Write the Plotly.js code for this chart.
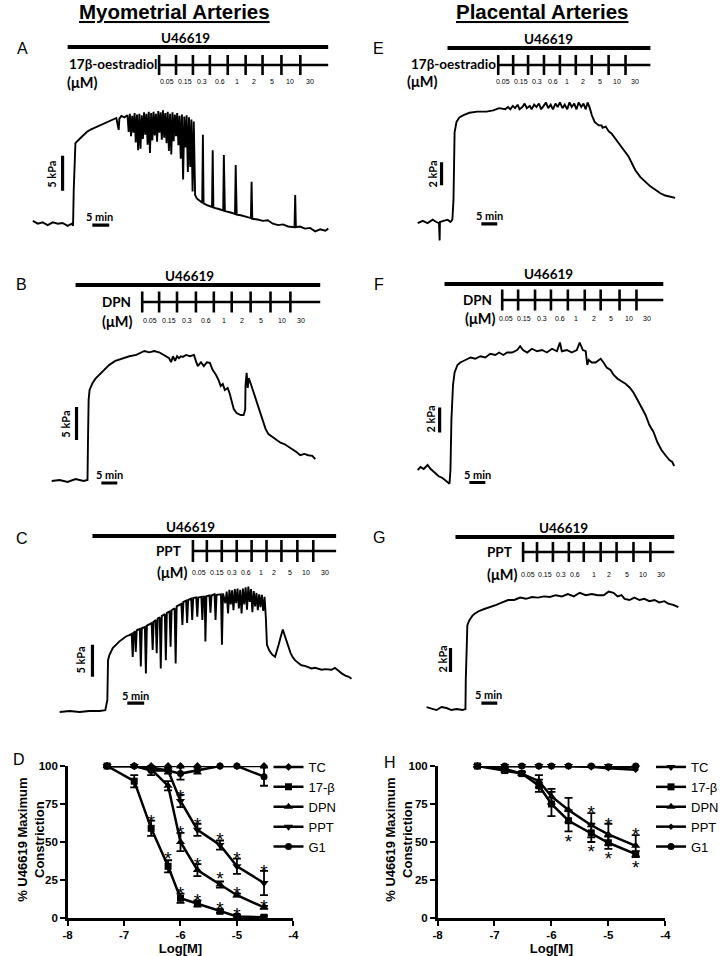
<!DOCTYPE html>
<html><head><meta charset="utf-8">
<script src="https://cdn.plot.ly/plotly-3.0.1.min.js"></script>
<style>body{margin:0;background:#fff}#chart{width:724px;height:956px}</style>
</head><body><div id="chart"></div>
<script>
// ---------------- Myography traces (time in min, tension in kPa) ----------------
// A: myometrial, 17β-oestradiol
const timeA = [0,1.5,2.9,4.4,5.9,7.4,8.8,10.3,11.5,11.9,12.1,12.2,12.4,12.6,13.8,15.0,16.2,17.4,18.8,20.3,21.8,23.2,24.7,25.4,25.6,26.2,27.1,
 28.0,28.35,28.7,29.05,29.4,29.75,30.1,30.45,30.8,31.15,31.5,31.85,32.2,32.55,32.9,33.25,33.6,33.95,34.3,34.65,35.0,35.35,35.7,36.05,36.4,36.75,37.1,37.45,37.8,38.15,38.5,38.85,39.2,39.55,39.9,40.25,40.6,40.95,41.3,41.65,42.0,42.35,42.7,43.05,43.4,43.75,44.1,44.45,44.8,45.15,45.5,45.85,46.2,46.55,46.9,47.25,47.6,48.0,
 48.5,50.1,50.3,50.5,51.8,53.0,53.2,53.4,55.0,56.3,56.5,56.8,58.5,59.8,60.0,60.3,61.5,63.0,64.5,64.7,64.9,66.5,68.0,69.5,71.0,72.6,74.0,75.5,77.4,77.6,77.8,79.0,80.5,82.0,83.5,85.0,86.5,87.4];
const kpaA = [1.3,0.9,1.1,0.7,1.1,0.9,1.0,0.6,0.9,0.6,5.7,7.1,11.4,12.4,13.0,13.6,14.1,14.4,14.7,15.1,15.4,15.7,16.0,14.3,15.9,16.3,16.1,
 16.4,14.0,16.6,13.4,16.3,13.9,16.7,12.5,16.5,11.4,16.6,11.6,16.4,13.0,16.8,13.6,16.6,12.2,16.9,11.0,16.7,12.8,16.9,13.5,16.6,12.6,17.0,13.9,16.8,12.9,17.1,13.2,16.7,12.4,16.9,11.3,16.6,10.8,16.8,12.7,16.5,13.4,16.7,12.1,16.3,10.2,16.5,7.2,16.2,11.8,16.4,8.3,16.1,9.0,15.8,5.5,15.5,5.0,
 4.5,3.9,13.6,3.8,3.5,3.3,11.4,3.2,3.0,2.8,10.7,2.7,2.5,2.3,9.3,2.2,2.1,1.9,1.7,6.9,1.6,1.5,1.3,1.4,0.9,0.7,0.8,0.5,0.4,5.0,0.4,0.5,0.2,0.3,-0.2,0.1,-0.1,0.2];
// B: myometrial, DPN
const timeB = [0,2.5,5.0,7.5,10,11.25,11.4,11.6,11.9,12.8,13.75,15,16.6,18.1,20,22.2,24.4,26.6,27.8,29.1,30.6,32.2,33.75,35,35.9,36.9,37.5,38.1,38.75,39.4,40,40.6,41.25,42.2,43.4,44.7,45.3,45.9,46.9,47.8,48.75,49.7,50.6,51.6,52.5,53.1,53.75,54.4,55.3,55.9,56.6,57.2,58.1,59.4,60.3,60.8,60.9,61.25,61.6,61.9,62.5,63.4,64.4,65.3,66.25,67.2,68.1,69.4,70.6,71.9,73.1,74.4,75.6,76.9,78.1,79.4,80.6,81.9,82.8];
const kpaB = [0,0.15,-0.15,0.3,0,0.15,6.2,12.3,13.8,14.8,15.5,16.1,16.8,17.6,18.2,18.6,18.9,19.1,19.4,19.7,19.5,19.7,19.5,19.1,18.8,18.6,18.0,18.9,18.2,18.9,18.6,18.9,18.8,19.1,18.9,19.1,18.2,17.4,18.0,17.4,18.0,17.9,16.8,16.1,15.2,14.4,14.7,13.8,14.1,13.3,12.0,10.9,10.3,10.0,10.0,10.8,14.5,16.4,14.1,15.6,14.8,13.5,12.0,10.5,9.2,7.9,7.1,6.7,6.2,5.8,5.6,5.2,4.8,4.4,3.9,4.1,3.9,3.8,3.3];
// C: myometrial, PPT
const timeC = [0,2.9,5.9,8.8,11.8,13.5,14.1,14.2,14.3,14.7,15.7,17.6,19.6,20.6,
 21.3,21.6,21.9,22.3,22.5,22.8,23.7,24.0,24.3,25.2,25.5,25.8,27.2,27.5,27.8,28.4,28.7,29.0,29.6,29.9,30.2,31.1,31.4,31.7,32.5,32.8,33.1,34.0,34.3,34.6,36.0,36.3,36.6,37.4,37.7,38.0,38.9,39.2,39.5,40.4,40.7,41.0,41.9,42.2,42.5,42.9,43.1,43.4,44.3,44.6,44.9,45.8,46.1,46.4,47.7,48.0,48.3,
 49.0,49.4,49.8,50.2,50.6,51.0,51.4,51.8,52.2,52.6,53.0,53.4,53.8,54.2,54.6,55.0,55.4,55.8,56.2,56.6,57.0,57.4,57.8,58.2,58.6,59.0,59.4,59.8,60.2,60.6,
 61.0,61.3,62.0,62.8,63.7,64.3,64.8,65.4,66.0,66.4,67.0,67.6,68.3,69.0,69.6,70.5,71.5,72.5,73.5,74.5,75.5,76.5,77.5,78.5,79.4,80.4,81.4,82.5,83.5,84.5,85.5,86.3];
const kpaC = [0,0.15,0,0.15,0.15,0.3,1.9,5,8.1,8.9,10,11,11.8,12.0,
 12.2,8.6,12.4,12.6,9.4,12.8,13.0,7.1,13.1,13.3,6.0,13.5,13.9,9.7,14.1,14.4,9.2,14.6,14.8,6.8,15.0,15.3,8.1,15.5,15.7,10.2,15.9,16.2,7.6,16.5,16.9,13.6,17.2,17.4,13.9,17.5,17.7,14.4,17.8,17.9,14.9,17.9,18.0,14.4,18.0,18.0,11.0,18.1,18.2,15.5,18.2,18.4,14.4,18.3,18.4,10.5,18.5,
 17.0,18.8,15.4,19.1,16.8,19.0,15.9,19.2,17.0,19.3,16.2,19.1,15.4,19.3,16.8,19.5,16.0,19.6,17.2,19.2,15.6,18.9,16.5,18.6,15.9,18.4,16.4,18.3,15.8,18.0,
 14.5,10.5,9.6,9.0,8.6,9.5,10.6,11.8,12.9,12.2,11.3,10.4,9.2,8.5,8.1,7.7,7.3,7.2,7.0,6.8,6.9,6.7,6.6,6.7,6.6,6.6,6.9,6.4,6.0,5.7,5.5,5.2];
// E: placental, 17β-oestradiol
const timeE = [0,1.6,3.1,4.7,5.9,6.7,6.9,7.0,8.1,9.4,10.3,10.9,11.25,11.4,11.6,12.2,13.1,14.4,16.25,18.75,21.6,23.75,25.6,
 27.5,28.4,29.1,29.9,30.6,31.4,32.0,32.9,33.6,34.3,35.2,35.8,36.6,37.3,38.1,38.8,39.6,40.3,41.0,41.8,42.5,43.3,44.0,44.7,45.5,46.2,47.0,47.7,48.4,49.2,49.9,50.6,51.4,52.1,52.8,53.4,54.1,
 54.7,55.6,56.9,57.8,58.1,59.1,60,60.9,62.5,64.1,65.3,66.25,67.5,68.4,70,71.6,73.1,74.7,76.25,77.8,79.4,80.9];
const kpaE = [-0.1,0.1,-0.1,0.2,0,-0.1,-1.6,0,0.1,0.2,0,0.2,1.9,5.4,7.8,8.7,9.1,9.3,9.5,9.6,9.6,9.7,9.9,
 9.8,10.0,9.8,10.1,9.9,10.2,9.8,10.0,10.3,9.9,10.1,9.8,10.2,10.0,10.3,9.8,10.1,10.4,9.9,10.2,9.8,10.3,10.0,10.4,9.9,10.2,9.8,10.4,10.0,10.3,9.8,10.4,10.0,10.3,9.8,10.4,9.9,
 9.3,8.7,8.4,8.4,8.2,8.3,7.9,7.7,7.1,6.5,6.0,5.7,5.0,4.5,3.9,3.5,3.1,2.8,2.5,2.3,2.2,2.1];
// F: placental, DPN
const timeF = [0,0.9,1.9,3.1,4.1,5.3,6.6,7.8,9.4,10,10.3,10.6,11.1,11.6,12.5,13.4,15,16.6,18.1,19.7,21.25,22.8,24.4,25.6,26.9,28.1,29.7,31.25,32.2,33.1,34.4,35.9,37.5,39.1,40.6,42.2,43.75,44.7,45.3,46.9,48.4,50,50.9,51.9,52.8,53.3,53.75,54.7,55.9,57.5,58.4,59.4,60.6,61.6,62.8,64.1,65.3,66.6,67.8,69.1,70.3,71.6,72.8,74.1,75.3,76.6,77.8,79.1,80,80.6];
const kpaF = [0,0.24,0.08,0.4,0.08,-0.24,-0.5,-0.64,-0.96,-1.1,0,4.0,6.8,7.8,8.4,8.6,8.8,9.0,8.9,9.1,9.0,9.3,9.2,9.4,9.2,9.4,9.4,9.6,9.9,9.6,9.4,9.7,9.5,9.6,9.4,9.7,9.5,10.2,9.5,9.6,9.4,9.6,10.2,9.6,9.5,8.4,8.8,8.6,8.6,8.9,8.6,8.2,8.0,7.6,7.3,7.1,6.9,6.6,6.2,5.6,4.96,4.4,3.6,3.04,2.24,1.6,1.2,0.8,0.64,0.32];
// G: placental, PPT
const timeG = [0,1.6,3.1,4.7,6.25,7.8,9.4,11.25,12.2,12.3,12.5,12.8,13.4,14.4,15.3,16.6,18.1,20,21.9,23.75,25.6,27.5,29.4,31.25,33.1,35,36.9,38.75,40.6,42.5,44.4,46.25,48.1,50,51.9,53.75,55.6,57.2,58.75,60,61.25,62.2,63.75,65.3,66.9,68.4,70,71.6,73.1,74.7,75.9,77.5,79.1];
const kpaG = [0.08,-0.08,-0.17,0.08,0,-0.17,-0.08,-0.17,-0.08,2.3,5.7,6.9,7.3,7.7,7.9,8.1,8.25,8.4,8.6,8.8,9.0,9.0,9.2,9.1,9.25,9.2,9.3,9.25,9.4,9.3,9.5,9.3,9.6,9.4,9.5,9.4,9.4,9.7,9.6,9.3,9.4,9.1,9.0,9.2,9.0,9.1,8.9,9.0,8.8,8.9,8.7,8.6,8.4];

const doseLabels = ['0.05','0.15','0.3','0.6','1','2','5','10','30'];

// ---------------- Concentration–response (% U46619 maximum constriction) ----------------
const logConc = [-7.3,-6.82,-6.52,-6.22,-6.0,-5.7,-5.3,-5.0,-4.52];
// D: myometrial
const myoTC   = [100,100,100,100,100,100,100,100,100];
const myoE2   = [100,90,59,34,13,9.5,4.4,1,0.5];
const myoE2Err= [0,4,5,4,3,2,1,1,1];
const myoDPN  = [100,100,98,87,50,31.5,22,15,7];
const myoDPNErr=[0,0,1,3,6,4,2,1,1];
const myoPPT  = [100,100,99,97,77,58,48,34,23];
const myoPPTErr=[0,0,1,2,4,4,3,5,8];
const myoG1   = [100,100,97,97,95,97,100,100,93];
const myoG1Err= [0,0,3,0,4,2,0,0,6];
const myoStarX = [-6.52,-6.22,-6.0,-5.7,-5.3,-5.0, -6.0,-5.7,-5.3,-5.0,-4.52, -6.0,-5.7,-5.3,-5.0,-4.52];
const myoStarY = [66.6,41.8,18.7,14.3,9.0,5.1, 58.9,38,28.8,18.7,10.5, 83,64.4,54.5,42,33.6];
// H: placental
const placTC   = [100,100,100,100,100,100,99.5,100,99];
const placE2   = [100,97,95,87,75,64,56,49.5,42];
const placE2Err= [0,1,1,4,8,7,6,4,2];
const placDPN  = [100,98,95,90,80,71,61,55,47.5];
const placDPNErr=[0,1,1,4,5,8,8,7,7];
const placPPT  = [100,100,100,100,100,100,99.5,98.5,97.5];
const placG1   = [100,100,100,100,100,100,100,99.5,100];
const placStarX = [-5.3,-5.0,-4.52, -5.7,-5.3,-5.0,-4.52];
const placStarY = [72,64.4,57.8, 53.4,46.8,41.8,36.3];

// ---------------- layout helpers ----------------
const W = 724, H = 956;
const X = v => v / W, Y = v => 1 - v / H;
const CAL = 'Lato, "Open Sans", sans-serif';
const ARIAL = '"Liberation Sans", Arial, sans-serif';

const data = [];
const shapes = [];
const annotations = [];
const layout = {
  width: W, height: H, margin: {l:0, r:0, t:0, b:0},
  paper_bgcolor: '#fff', plot_bgcolor: 'rgba(0,0,0,0)',
  font: {family: ARIAL, color: '#000'},
  showlegend: true, shapes, annotations
};

function axisIds(n) {
  const s = n === 1 ? '' : String(n);
  return {x: 'x' + s, y: 'y' + s, xa: 'xaxis' + s, ya: 'yaxis' + s};
}

// trace panels: pixel box + pixel origin/scales so scale bars stay true (5 min, 5/2 kPa)
const tracePanels = [
  {n:1, t:timeA, p:kpaA, box:[25,340,95,245], x0:33, y0:230, sx:3.4, sy:7,   kpa:5, vBar:[8.8,5.6], hBar:[17.6,0.7], kpaLbl:[51,174], minLbl:[100,216]},
  {n:2, t:timeB, p:kpaB, box:[45,330,335,495], x0:52, y0:481, sx:3.2, sy:6.6, kpa:5, vBar:[7.8,6.2], hBar:[15.6,-0.3], kpaLbl:[66,424], minLbl:[110,474]},
  {n:3, t:timeC, p:kpaC, box:[55,365,585,720], x0:60, y0:712, sx:3.4, sy:6.4, kpa:5, vBar:[9.7,5.5], hBar:[20,1.4], kpaLbl:[80,660], minLbl:[136,695]},
  {n:4, t:timeE, p:kpaE, box:[415,690,95,245], x0:420, y0:222, sx:3.2, sy:11.5, kpa:2, vBar:[7.5,3.2], hBar:[20,-0.17], kpaLbl:[434,174], minLbl:[492,215]},
  {n:5, t:timeF, p:kpaF, box:[415,690,335,495], x0:420, y0:470, sx:3.2, sy:12.5, kpa:2, vBar:[6.9,3.0], hBar:[16.25,-1.0], kpaLbl:[432,419], minLbl:[480,474]},
  {n:6, t:timeG, p:kpaG, box:[420,690,585,720], x0:429, y0:708, sx:3.2, sy:12, kpa:2, vBar:[7.5,3.0], hBar:[17.2,0.4], kpaLbl:[444,659], minLbl:[491,694]}
];

tracePanels.forEach(c => {
  const id = axisIds(c.n);
  const [L, R, T, B] = c.box;
  layout[id.xa] = {domain:[X(L), X(R)], range:[(L - c.x0)/c.sx, (R - c.x0)/c.sx], visible:false, fixedrange:true, anchor:id.y};
  layout[id.ya] = {domain:[Y(B), Y(T)], range:[(c.y0 - B)/c.sy, (c.y0 - T)/c.sy], visible:false, fixedrange:true, anchor:id.x};
  data.push({x:c.t, y:c.p, xaxis:id.x, yaxis:id.y, type:'scatter', mode:'lines',
    line:{color:'#000', width:1.9}, showlegend:false, hoverinfo:'skip', cliponaxis:false});
  shapes.push({type:'line', xref:id.x, yref:id.y, x0:c.vBar[0], x1:c.vBar[0], y0:c.vBar[1], y1:c.vBar[1] + c.kpa, line:{color:'#000', width:3.2}});
  shapes.push({type:'line', xref:id.x, yref:id.y, x0:c.hBar[0], x1:c.hBar[0] + 5, y0:c.hBar[1], y1:c.hBar[1], line:{color:'#000', width:3.2}});
  annotations.push({xref:'paper', yref:'paper', x:X(c.kpaLbl[0]), y:Y(c.kpaLbl[1]), text:'<b>' + c.kpa + ' kPa</b>', textangle:-90,
    showarrow:false, xanchor:'center', yanchor:'middle', font:{family:CAL, size:11}});
  annotations.push({xref:'paper', yref:'paper', x:X(c.minLbl[0]), y:Y(c.minLbl[1]), text:'<b>5 min</b>',
    showarrow:false, xanchor:'center', yanchor:'middle', font:{family:CAL, size:11}});
});

// protocol diagrams (U46619 bar + cumulative dosing ticks)
const protocols = [
  {u:[68,330,47],  ut:[187,38],  dl:[160,330,65],  th:10, ticks:[160,177,194,211,229,247,264,283,302], name:'17β-oestradiol', dn:[159,64], um:[66,83],  dx:[168,186,203,221,238,255,274,292,312], dy:82},
  {u:[76,322,285], ut:[191,276], dl:[143,322,302], th:10.5, ticks:[143,160,178,197,215,233,252,272,292], name:'DPN', dn:[133,302], um:[102,321], dx:[151,170,188,207,225,243,262,284,303], dy:320},
  {u:[93,338,536], ut:[192,527], dl:[194,338,551], th:11, ticks:[194,208,223,238,253,268,283,299,315], name:'PPT', dn:[183,551], um:[157,572], dx:[200,218,233,247,262,276,292,308,327], dy:572},
  {u:[450,654,48], ut:[552,39],  dl:[500,654,65],  th:10, ticks:[501,516,531,547,563,579,595,612,629], name:'17β-oestradio', dn:[500,64], um:[408,82], dx:[506,524,540,556,570,586,603,620,639], dy:82},
  {u:[447,667,284], ut:[552,274], dl:[505,667,300], th:10.5, ticks:[505,521,538,554,571,588,604,623,640], name:'DPN', dn:[496,300], um:[467,318], dx:[509,527,545,563,579,597,614,632,651], dy:318},
  {u:[458,678,537], ut:[567,528], dl:[526,678,552], th:10, ticks:[526,540,556,572,587,604,620,637,654], name:'PPT', dn:[516,552], um:[489,574], dx:[531,548,564,578,597,612,630,647,665], dy:574}
];
protocols.forEach(p => {
  shapes.push({type:'line', xref:'paper', yref:'paper', x0:X(p.u[0]), x1:X(p.u[1]), y0:Y(p.u[2]), y1:Y(p.u[2]), line:{color:'#000', width:4}});
  shapes.push({type:'line', xref:'paper', yref:'paper', x0:X(p.dl[0]), x1:X(p.dl[1]), y0:Y(p.dl[2]), y1:Y(p.dl[2]), line:{color:'#000', width:2.6}});
  p.ticks.forEach(tx => shapes.push({type:'line', xref:'paper', yref:'paper', x0:X(tx), x1:X(tx),
    y0:Y(p.dl[2] - p.th), y1:Y(p.dl[2] + p.th), line:{color:'#000', width:2.6}}));
  annotations.push({xref:'paper', yref:'paper', x:X(p.ut[0]), y:Y(p.ut[1]), text:'<b>U46619</b>', showarrow:false,
    xanchor:'center', yanchor:'middle', font:{family:CAL, size:13.5}});
  annotations.push({xref:'paper', yref:'paper', x:X(p.dn[0]), y:Y(p.dn[1]), text:'<b>' + p.name + '</b>', showarrow:false,
    xanchor:'right', yanchor:'middle', font:{family:CAL, size:13.5}, borderpad:0});
  annotations.push({xref:'paper', yref:'paper', x:X(p.um[0]), y:Y(p.um[1]), text:'<b>(μM)</b>', showarrow:false,
    xanchor:'left', yanchor:'middle', font:{family:CAL, size:14.5}, borderpad:0});
  doseLabels.forEach((d, i) => annotations.push({xref:'paper', yref:'paper', x:X(p.dx[i]), y:Y(p.dy), text:d,
    showarrow:false, xanchor:'center', yanchor:'middle', font:{family:ARIAL, size:7, color:'#000'}, borderpad:0}));
});

// concentration–response plots
function crAxes(n, L, R) {
  const id = axisIds(n);
  layout[id.xa] = {domain:[X(L), X(R)], range:[-8,-4], anchor:id.y, showline:true, linewidth:2.5, linecolor:'#000',
    ticks:'outside', ticklen:5, tickwidth:2, tickcolor:'#000', tickvals:[-8,-7,-6,-5,-4], ticktext:['-8','-7','-6','-5','-4'],
    tickfont:{family:ARIAL, size:11.5, weight:'bold'}, showgrid:false, zeroline:false, fixedrange:true,
    title:{text:'<b>Log[M]</b>', font:{family:ARIAL, size:13}, standoff:8}};
  layout[id.ya] = {domain:[Y(918), Y(766)], range:[0,100], anchor:id.x, showline:true, linewidth:2.5, linecolor:'#000',
    ticks:'outside', ticklen:5, tickwidth:2, tickcolor:'#000', tickvals:[0,25,50,75,100],
    tickfont:{family:ARIAL, size:11.5, weight:'bold'}, showgrid:false, zeroline:false, fixedrange:true};
  return id;
}
const idD = crAxes(7, 68, 295);
const idH = crAxes(8, 440, 669);

function addSeries(id, legendId, name, y, err, symbol, size) {
  const tr = {x:logConc, y:y, xaxis:id.x, yaxis:id.y, type:'scatter', mode:'lines+markers', name:name,
    legend:legendId, line:{color:'#000', width:2.5}, marker:{color:'#000', symbol:symbol, size:size},
    cliponaxis:false, hoverinfo:'skip'};
  if (err) tr.error_y = {type:'data', array:err, visible:true, color:'#000', thickness:1.8, width:4};
  data.push(tr);
}
addSeries(idD, 'legend', 'TC', myoTC, null, 'diamond', 6);
addSeries(idD, 'legend', '17-β', myoE2, myoE2Err, 'square', 7);
addSeries(idD, 'legend', 'DPN', myoDPN, myoDPNErr, 'triangle-up', 8);
addSeries(idD, 'legend', 'PPT', myoPPT, myoPPTErr, 'triangle-down', 8);
addSeries(idD, 'legend', 'G1', myoG1, myoG1Err, 'circle', 7);
addSeries(idH, 'legend2', 'TC', placTC, null, 'triangle-down', 8);
addSeries(idH, 'legend2', '17-β', placE2, placE2Err, 'square', 7);
addSeries(idH, 'legend2', 'DPN', placDPN, placDPNErr, 'triangle-up', 8);
addSeries(idH, 'legend2', 'PPT', placPPT, null, 'diamond', 5);
addSeries(idH, 'legend2', 'G1', placG1, null, 'circle', 7);

// significance asterisks
[[idD, myoStarX, myoStarY], [idH, placStarX, placStarY]].forEach(([id, sx, sy]) => {
  data.push({x:sx, y:sy.map(v => v - 4), xaxis:id.x, yaxis:id.y, type:'scatter', mode:'text', text:sx.map(() => '*'),
    textposition:'middle center', textfont:{family:ARIAL, size:19, color:'#000'}, showlegend:false, hoverinfo:'skip', cliponaxis:false});
});

const legendBase = {yanchor:'top', xanchor:'left', font:{family:ARIAL, size:13}, bgcolor:'rgba(0,0,0,0)',
  itemwidth:30, tracegroupgap:0, itemclick:false, itemdoubleclick:false};
layout.legend = Object.assign({}, legendBase, {x:X(270), y:Y(752)});
layout.legend2 = Object.assign({}, legendBase, {x:X(655), y:Y(752)});

// y-axis titles of D and H
[[31, 840], [401, 840]].forEach(([x, y]) => annotations.push({xref:'paper', yref:'paper', x:X(x), y:Y(y),
  text:'<b>% U46619 Maximum<br>Constriction</b>', textangle:-90, showarrow:false, xanchor:'center', yanchor:'middle',
  font:{family:ARIAL, size:13}}));

// panel letters & column titles
[['A',23,48],['B',22,285],['C',22,538],['D',19,759],['E',381,48],['F',381,285],['G',381,537],['H',392,762]].forEach(([t,x,y]) =>
  annotations.push({xref:'paper', yref:'paper', x:X(x), y:Y(y), text:t, showarrow:false, xanchor:'center', yanchor:'middle',
    font:{family:ARIAL, size:16}}));
[['Myometrial Arteries',175],['Placental Arteries',545]].forEach(([t,x]) =>
  annotations.push({xref:'paper', yref:'paper', x:X(x), y:Y(12), text:'<b><u>' + t + '</u></b>', showarrow:false,
    xanchor:'center', yanchor:'middle', font:{family:ARIAL, size:20.5}}));

Plotly.newPlot('chart', data, layout, {staticPlot:true, displayModeBar:false});
</script></body></html>
